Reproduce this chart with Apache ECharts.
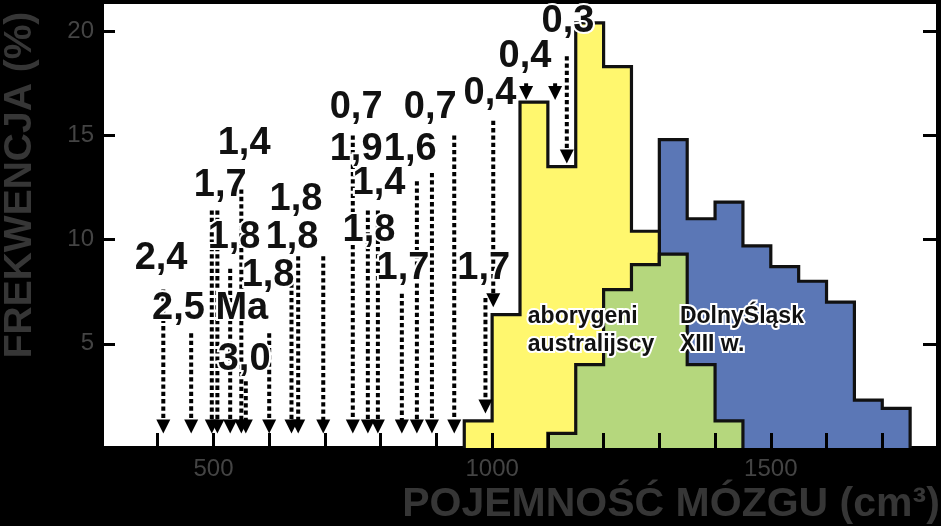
<!DOCTYPE html>
<html>
<head>
<meta charset="utf-8">
<script src="https://cdn.jsdelivr.net/npm/echarts@6/dist/echarts.min.js"></script>
<style>
html,body{margin:0;padding:0;background:#000;}
#chart{width:941px;height:526px;}
</style>
</head>
<body>
<div id="chart"></div>
<script>
// ---- data ----
const binWidth = 50;
const yellowStart = 950;
const yellowFreq = [1.3, 6.4, 16.6, 13.5, 20.4, 18.3, 10.4];
const greenStart = 1100;
const greenFreq = [0.7, 4.0, 7.6, 8.8, 9.3, 4.0, 1.3];
const blueStart = 1300;
const blueFreq = [14.8, 11.0, 11.8, 9.7, 8.7, 8.0, 7.0, 2.3, 1.9];

const xTickLabels = [500, 1000, 1500];
const yTickLabels = [5, 10, 15, 20];

// fossil skulls: capacity (cm3), dotted arrow from top to bottom (frequency units)
const arrowX      = [410, 460, 497, 507, 530, 550, 558, 600, 640, 652, 697, 750, 777, 795, 838, 865, 892, 932, 988, 1002, 1061, 1113, 1134];
const arrowTop    = [7.6, 5.5, 11.4, 11.4, 8.6, 12.4, 3.2, 5.5, 7.9, 9.2, 9.2, 15.0, 11.4, 11.4, 7.4, 12.8, 13.2, 15.0, 7.2, 15.7, 17.5, 17.5, 18.8];
const arrowBottom = [0.7, 0.7, 0.7, 0.7, 0.7, 0.7, 0.7, 0.7, 0.7, 0.7, 0.7, 0.7, 0.7, 0.7, 0.7, 0.7, 0.7, 0.7, 1.65, 6.75, 16.7, 16.7, 13.65];

// age labels (Ma)
const ageLabels = ['1,4','1,7','1,8','1,8','1,8','1,8','2,4','2,5 Ma','3,0','0,7','1,9','1,6','0,7','0,4','1,4','1,8','1,7','1,7','0,4','0,3'];
const ageLabelX = [555, 512, 648, 537, 641, 598, 406, 494, 555, 756, 756, 853, 889, 996, 797, 779, 840, 985, 1059, 1136];
const ageLabelY = [14.6, 12.6, 11.9, 10.1, 10.1, 8.3, 9.1, 6.7, 4.25, 16.35, 14.3, 14.3, 16.35, 17.0, 12.7, 10.45, 8.6, 8.6, 18.8, 20.45];

// group labels
const groupLabels = ['aborygeni\naustralijscy', 'DolnyŚląsk\nXIII w.'];
const groupLabelX = [1064, 1337];
const groupLabelY = [6.95, 6.95];

// ---- helpers ----
function stepOutline(start, freq) {
  const pts = [[start, 0]];
  freq.forEach((f, i) => {
    pts.push([start + i * binWidth, f]);
    pts.push([start + (i + 1) * binWidth, f]);
  });
  pts.push([start + freq.length * binWidth, 0]);
  return pts;
}

const FONT = '"Liberation Sans", Arial, sans-serif';

function histSeries(name, start, freq, color, z) {
  return {
    name: name, type: 'line', data: stepOutline(start, freq),
    showSymbol: false, symbol: 'none', z: z, silent: true,
    lineStyle: {color: '#111', width: 3.2, join: 'miter'},
    areaStyle: {color: color, opacity: 1, origin: 'start'}
  };
}

const chart = echarts.init(document.getElementById('chart'), null, {renderer: 'canvas'});

const option = {
  backgroundColor: '#000',
  animation: false,
  grid: {left: 102, right: 3, top: 2, bottom: 78, show: true, backgroundColor: '#fff', borderColor: '#000', borderWidth: 4, z: 0},
  xAxis: [
    {type: 'value', min: 300, max: 1800, interval: 100, position: 'bottom', z: 6,
     axisLine: {show: false}, splitLine: {show: false},
     axisTick: {show: true, inside: true, length: 15, lineStyle: {color: '#000', width: 3}},
     axisLabel: {show: true, margin: 9, color: '#444', fontSize: 24, fontFamily: FONT,
       showMinLabel: false, showMaxLabel: false,
       formatter: v => xTickLabels.indexOf(v) >= 0 ? String(v) : ''}},
    {type: 'value', min: 300, max: 1800, interval: 100, position: 'top', z: 6,
     axisLine: {show: false}, splitLine: {show: false},
     axisTick: {show: true, inside: true, length: 15, lineStyle: {color: '#000', width: 3}},
     axisLabel: {show: false}}
  ],
  yAxis: [
    {type: 'value', min: 0, max: 21.4, interval: 5, position: 'left', z: 6,
     axisLine: {show: false}, splitLine: {show: false},
     axisTick: {show: true, inside: true, length: 13, lineStyle: {color: '#000', width: 3}},
     axisLabel: {show: true, margin: 8, color: '#444', fontSize: 24, fontFamily: FONT,
       showMaxLabel: false,
       formatter: v => yTickLabels.indexOf(v) >= 0 ? String(v) : ''}},
    {type: 'value', min: 0, max: 21.4, interval: 5, position: 'right', z: 6,
     axisLine: {show: false}, splitLine: {show: false},
     axisTick: {show: true, inside: true, length: 15, lineStyle: {color: '#000', width: 3}},
     axisLabel: {show: false}}
  ],
  graphic: [
    {type: 'text', x: 671, y: 505, z: 100,
     style: {text: 'POJEMNOŚĆ MÓZGU (cm³)', font: 'bold 41px ' + FONT, fill: '#363636', align: 'center', verticalAlign: 'middle'}},
    {type: 'text', x: 20, y: 185, rotation: Math.PI / 2, z: 100,
     style: {text: 'FREKWENCJA (%)', font: 'bold 39px ' + FONT, fill: '#363636', align: 'center', verticalAlign: 'middle'}}
  ],
  series: [
    histSeries('blue', blueStart, blueFreq, '#5b77b6', 2),
    histSeries('yellow', yellowStart, yellowFreq, '#fff76e', 3),
    histSeries('green', greenStart, greenFreq, '#b5d77d', 4),
    {
      type: 'custom', z: 8, silent: true,
      data: arrowX.map((x, i) => [x, arrowTop[i], arrowBottom[i]]),
      renderItem: function (params, api) {
        const p1 = api.coord([api.value(0), api.value(1)]);
        const p2 = api.coord([api.value(0), api.value(2)]);
        const headH = 14, headW = 7;
        const children = [];
        if (p2[1] - headH > p1[1]) {
          children.push({type: 'line', shape: {x1: p1[0], y1: p1[1], x2: p2[0], y2: p2[1] - headH + 1},
            style: {stroke: '#000', lineWidth: 4, lineDash: [4.3, 3], lineCap: 'butt'}});
        }
        children.push({type: 'polygon', shape: {points: [[p2[0] - headW, p2[1] - headH], [p2[0] + headW, p2[1] - headH], [p2[0], p2[1]]]},
          style: {fill: '#000'}});
        return {type: 'group', children: children};
      }
    },
    {
      type: 'custom', z: 10, silent: true,
      data: ageLabelX.map((x, i) => [x, ageLabelY[i], i]),
      renderItem: function (params, api) {
        const p = api.coord([api.value(0), api.value(1)]);
        return {type: 'text', x: p[0], y: p[1],
          style: {text: ageLabels[api.value(2)], font: 'bold 38px ' + FONT, fill: '#111', align: 'center', verticalAlign: 'middle',
            stroke: '#fff', lineWidth: 4}};
      }
    },
    {
      type: 'custom', z: 10, silent: true,
      data: groupLabelX.map((x, i) => [x, groupLabelY[i], i]),
      renderItem: function (params, api) {
        const p = api.coord([api.value(0), api.value(1)]);
        return {type: 'text', x: p[0], y: p[1],
          style: {text: groupLabels[api.value(2)], font: 'bold 23px ' + FONT, fill: '#111', align: 'left', verticalAlign: 'top',
            lineHeight: 28, stroke: '#fff', lineWidth: 4}};
      }
    }
  ]
};
chart.setOption(option);
</script>
</body>
</html>
